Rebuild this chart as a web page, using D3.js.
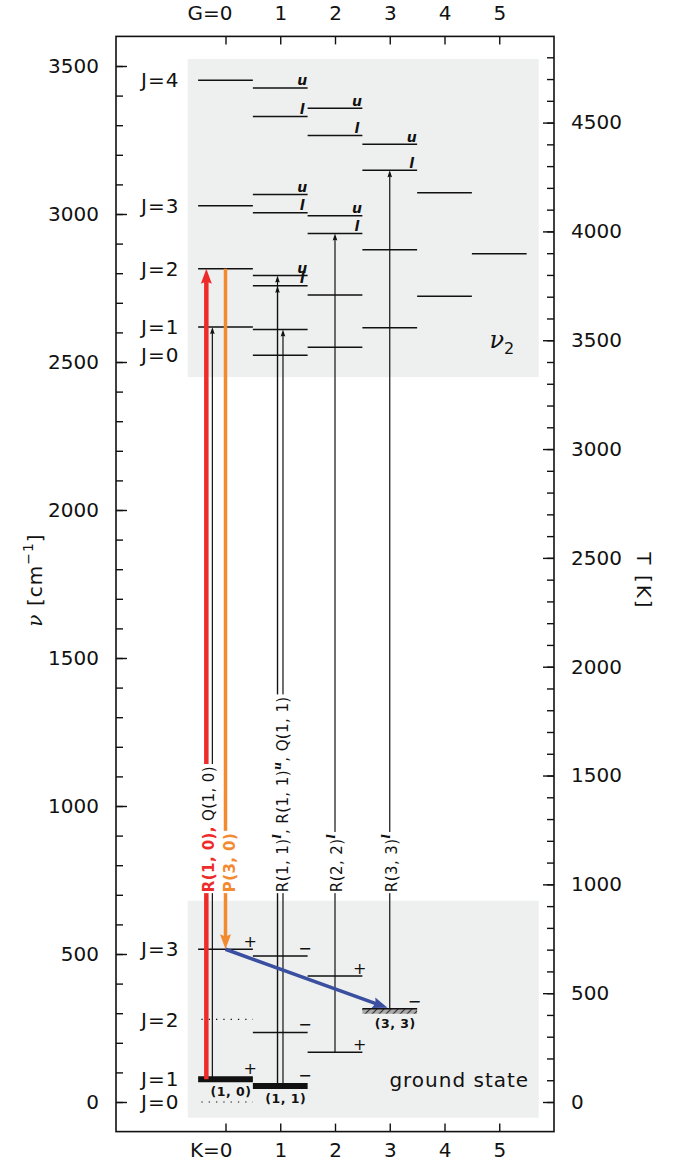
<!DOCTYPE html>
<html>
<head>
<meta charset="utf-8">
<script src="https://cdn.jsdelivr.net/npm/d3@7"></script>
<style>
  body { margin: 0; background: #fff; }
  text { font-family: "DejaVu Sans", sans-serif; }
</style>
</head>
<body>
<div id="chart"></div>
<script>
// ---- data ----
const kTicks = [0, 1, 2, 3, 4, 5];
const nuTicks = [0, 500, 1000, 1500, 2000, 2500, 3000, 3500];
const tempTicks = [0, 500, 1000, 1500, 2000, 2500, 3000, 3500, 4000, 4500];

// nu2 = 1 levels
const upperK   = [0, 0, 0, 0,   1, 1, 1, 1, 1, 1, 1, 1,   2, 2, 2, 2, 2, 2,   3, 3, 3, 3,   4, 4,   5];
const upperNu  = [3452, 3028, 2815, 2618,   3426, 3329, 3066, 3004, 2792, 2758, 2610, 2523,
                  3357, 3265, 2994, 2934, 2726, 2550,   3236, 3148, 2879, 2616,   3072, 2722,   2866];
const upperTag = ["", "", "", "",   "u", "l", "u", "l", "u", "l", "", "",   "u", "l", "u", "l", "", "",
                  "u", "l", "", "",   "", "",   ""];

// ground state levels
const groundK      = [0, 0, 0, 0,   1, 1, 1,   2, 2,   3];
const groundNu     = [516, 279, 77, 0,   493, 235, 54,   426, 168,   315];
const groundStyle  = ["line", "dotted", "thick", "dotted",   "line", "line", "thick",   "line", "line",   "hatched"];
const groundParity = ["+", "", "+", "",   "\u2212", "\u2212", "\u2212",   "+", "+",   "\u2212"];
const groundName   = ["", "", "(1, 0)", "",   "", "", "(1, 1)",   "", "",   "(3, 3)"];

const jUpperNames  = ["J=4", "J=3", "J=2", "J=1", "J=0"];
const jUpperNu     = [3452, 3028, 2815, 2618, 2523];
const jGroundNames = ["J=3", "J=2", "J=1", "J=0"];
const jGroundNu    = [516, 279, 77, 0];

// transitions (vertical)
const transX     = [-0.35, -0.24, 0, 0.95, 0.95, 1.05, 2, 3];
const transFrom  = [77, 77, 2815, 54, 54, 54, 168, 315];
const transTo    = [2815, 2618, 516, 2792, 2758, 2610, 2934, 3148];
const transKind  = ["red", "thin", "orange", "thin", "thin", "thin", "thin", "thin"];

// relaxation arrow (K, nu)
const blueFrom = [0, 516];
const blueTo   = [2.96, 318];

// transition labels
const labelX = [-0.31, 0.07, 1.04, 2.02, 3.03];
const labelParts = [
  [["R(1, 0),", "red"], [" Q(1, 0)", "plain"]],
  [["P(3, 0)", "orange"]],
  [["R(1, 1)", "plain"], ["l", "sup"], [", R(1, 1)", "plain"], ["u", "sup"], [", Q(1, 1)", "plain"]],
  [["R(2, 2)", "plain"], ["l", "sup"]],
  [["R(3, 3)", "plain"], ["l", "sup"]]
];
const labelNu = 709;

// shaded regions
const bandK = [-0.69, 5.72];
const bandNuLow  = [2449, -53];
const bandNuHigh = [3524, 680];

const colors = { red: "#ee2b2b", orange: "#f28a30", blue: "#3a4f9f", thin: "#111", plain: "#111" };

// ---- chart ----
const width = 675, height = 1163;
const frameLeft = 116, frameRight = 554, frameTop = 36.4, frameBottom = 1131.6;
const kelvinPerWavenumber = 1.36;

const svg = d3.select("#chart").append("svg")
  .attr("width", width)
  .attr("height", height);

const x = d3.scaleLinear().domain([-2, 6]).range([frameLeft, frameRight]);
const y = d3.scaleLinear().domain([-100, 3600]).range([frameBottom, frameTop]);
const yT = d3.scaleLinear().domain([-100 * kelvinPerWavenumber, 3600 * kelvinPerWavenumber]).range([frameBottom, frameTop]);

// hatch pattern for (3,3)
const defs = svg.append("defs");
const pat = defs.append("pattern").attr("id", "hatch")
  .attr("patternUnits", "userSpaceOnUse").attr("width", 7).attr("height", 7);
pat.append("rect").attr("width", 7).attr("height", 7).attr("fill", "#a9a9a9");
pat.append("path").attr("d", "M-1,8L8,-1").attr("stroke", "#333").attr("stroke-width", 1.2);

// shaded boxes
svg.append("g").selectAll("rect").data(bandNuLow).join("rect")
  .attr("x", x(bandK[0]))
  .attr("width", x(bandK[1]) - x(bandK[0]))
  .attr("y", (d, i) => y(bandNuHigh[i]))
  .attr("height", (d, i) => y(d) - y(bandNuHigh[i]))
  .attr("fill", "#eef0ef");

// axes
function styleAxis(g) {
  g.select(".domain").remove();
  g.selectAll("text").attr("font-family", "DejaVu Sans").attr("font-size", 20).attr("fill", "#111");
  g.selectAll("line").attr("stroke", "#111").attr("stroke-width", 1.4);
}
const plain = d3.format("d");

svg.append("g").attr("transform", `translate(${frameLeft},0)`)
  .call(d3.axisLeft(y).tickValues(d3.range(0, 3600, 100)).tickSize(-7).tickFormat(""))
  .call(styleAxis);
svg.append("g").attr("transform", `translate(${frameLeft},0)`)
  .call(d3.axisLeft(y).tickValues(nuTicks).tickSize(-11).tickPadding(17).tickFormat(plain))
  .call(styleAxis);

svg.append("g").attr("transform", `translate(${frameRight},0)`)
  .call(d3.axisRight(yT).tickValues(d3.range(0, 4900, 100)).tickSize(-7).tickFormat(""))
  .call(styleAxis);
svg.append("g").attr("transform", `translate(${frameRight},0)`)
  .call(d3.axisRight(yT).tickValues(tempTicks).tickSize(-11).tickPadding(17).tickFormat(plain))
  .call(styleAxis);

const topAxis = svg.append("g").attr("transform", `translate(0,${frameTop})`)
  .call(d3.axisTop(x).tickValues(kTicks).tickSize(-8).tickPadding(16).tickFormat(d => d === 0 ? "G=0" : d))
  .call(styleAxis);
topAxis.selectAll("text").filter(d => d === 0).attr("text-anchor", "end").attr("x", 6.5);

const bottomAxis = svg.append("g").attr("transform", `translate(0,${frameBottom})`)
  .call(d3.axisBottom(x).tickValues(kTicks).tickSize(-8).tickPadding(11).tickFormat(d => d === 0 ? "K=0" : d))
  .call(styleAxis);
bottomAxis.selectAll("text").filter(d => d === 0).attr("text-anchor", "end").attr("x", 6.5);

// frame
svg.append("rect")
  .attr("x", frameLeft).attr("y", frameTop)
  .attr("width", frameRight - frameLeft).attr("height", frameBottom - frameTop)
  .attr("fill", "none").attr("stroke", "#111").attr("stroke-width", 1.6);

// axis titles
const yTitle = svg.append("text")
  .attr("transform", "translate(42,580) rotate(-90)")
  .attr("text-anchor", "middle")
  .attr("font-size", 20)
  .attr("letter-spacing", 1)
  .attr("fill", "#111");
yTitle.append("tspan").attr("font-family", "DejaVu Serif").attr("font-style", "italic").text("\u03bd");
yTitle.append("tspan").text(" [cm");
yTitle.append("tspan").attr("font-size", 14).attr("dy", -9).text("\u22121");
yTitle.append("tspan").attr("dy", 9).text("]");

svg.append("text")
  .attr("transform", "translate(637,581) rotate(90)")
  .attr("text-anchor", "middle")
  .attr("font-size", 20)
  .attr("letter-spacing", 2)
  .attr("fill", "#111")
  .text("T [K]");

// ---- levels ----
const levels = svg.append("g");

levels.selectAll("line.up").data(upperNu).join("line")
  .attr("class", "up")
  .attr("x1", (d, i) => x(upperK[i] - 0.5))
  .attr("x2", (d, i) => x(upperK[i] + 0.5))
  .attr("y1", d => y(d)).attr("y2", d => y(d))
  .attr("stroke", "#111").attr("stroke-width", 1.5);

levels.selectAll("text.tag").data(upperNu).join("text")
  .attr("class", "tag")
  .attr("x", (d, i) => x(upperK[i] + 0.4))
  .attr("y", d => y(d) - 2.5)
  .attr("text-anchor", "middle")
  .attr("font-family", "DejaVu Serif")
  .attr("font-style", "italic")
  .attr("font-weight", "bold")
  .attr("font-size", 14)
  .attr("fill", "#111")
  .text((d, i) => upperTag[i]);

// hatched band under (3,3)
groundNu.forEach((d, i) => {
  if (groundStyle[i] !== "hatched") return;
  levels.append("rect")
    .attr("x", x(groundK[i] - 0.5)).attr("width", x(groundK[i] + 0.5) - x(groundK[i] - 0.5))
    .attr("y", y(d)).attr("height", 5)
    .attr("fill", "url(#hatch)");
});

levels.selectAll("line.gr").data(groundNu).join("line")
  .attr("class", "gr")
  .attr("x1", (d, i) => x(groundK[i] - (groundStyle[i] === "dotted" ? 0.44 : 0.5)))
  .attr("x2", (d, i) => x(groundK[i] + 0.5))
  .attr("y1", d => y(d)).attr("y2", d => y(d))
  .attr("stroke", "#111")
  .attr("stroke-width", (d, i) => groundStyle[i] === "thick" ? 6 : groundStyle[i] === "dotted" ? 1.2 : 1.5)
  .attr("stroke-dasharray", (d, i) => groundStyle[i] === "dotted" ? "1.3,6" : null);

levels.selectAll("text.par").data(groundNu).join("text")
  .attr("class", "par")
  .attr("x", (d, i) => x(groundK[i] + 0.45))
  .attr("y", (d, i) => y(d) - (groundStyle[i] === "thick" ? 5 : 2))
  .attr("text-anchor", "middle")
  .attr("font-size", 16)
  .attr("fill", "#111")
  .text((d, i) => groundParity[i]);

levels.selectAll("text.name").data(groundNu).join("text")
  .attr("class", "name")
  .attr("x", (d, i) => x(groundK[i] + 0.1))
  .attr("y", (d, i) => y(d) + (groundStyle[i] === "hatched" ? 19 : 17))
  .attr("text-anchor", "middle")
  .attr("font-size", 12.5)
  .attr("font-weight", "bold")
  .attr("letter-spacing", 0.5)
  .attr("fill", "#111")
  .text((d, i) => groundName[i]);

// J labels
const jText = (names, nus) => svg.append("g").selectAll("text").data(nus).join("text")
  .attr("x", x(-0.84))
  .attr("y", d => y(d))
  .attr("dy", "0.36em")
  .attr("text-anchor", "end")
  .attr("font-size", 20)
  .attr("letter-spacing", 1)
  .attr("fill", "#111")
  .text((d, i) => names[i]);
jText(jUpperNames, jUpperNu);
jText(jGroundNames, jGroundNu);

// ---- transitions ----
function arrowHead(g, x1, y1, x2, y2, len, wid, color, notch) {
  const a = Math.atan2(y2 - y1, x2 - x1);
  const ux = Math.cos(a), uy = Math.sin(a);
  const bx = x2 - ux * len, by = y2 - uy * len;
  const px = -uy * wid / 2, py = ux * wid / 2;
  const nx = x2 - ux * len * (1 - notch), ny = y2 - uy * len * (1 - notch);
  g.append("path")
    .attr("d", `M${x2},${y2}L${bx + px},${by + py}L${nx},${ny}L${bx - px},${by - py}Z`)
    .attr("fill", color);
}

const trans = svg.append("g");
transX.forEach((k, i) => {
  const kind = transKind[i];
  const heavy = kind !== "thin";
  const px = x(k), y1 = y(transFrom[i]), y2 = y(transTo[i]);
  const len = heavy ? 15 : 7, wid = heavy ? 11 : 4.6;
  const dir = Math.sign(y2 - y1);
  trans.append("line")
    .attr("x1", px).attr("x2", px)
    .attr("y1", y1).attr("y2", y2 - dir * len * 0.7)
    .attr("stroke", colors[kind])
    .attr("stroke-width", kind === "red" ? 4.5 : kind === "orange" ? 3.5 : 1.2);
  arrowHead(trans, px, y1, px, y2, len, wid, colors[kind], heavy ? 0.15 : 0.1);
});

// relaxation arrow
{
  const x1 = x(blueFrom[0]), y1 = y(blueFrom[1]);
  const x2 = x(blueTo[0]), y2 = y(blueTo[1]);
  const a = Math.atan2(y2 - y1, x2 - x1);
  trans.append("line")
    .attr("x1", x1).attr("y1", y1)
    .attr("x2", x2 - Math.cos(a) * 11).attr("y2", y2 - Math.sin(a) * 11)
    .attr("stroke", colors.blue).attr("stroke-width", 3.6);
  arrowHead(trans, x1, y1, x2, y2, 15, 11, colors.blue, 0.15);
}

// transition labels (rotated, knock out the lines behind them)
labelX.forEach((k, i) => {
  const g = svg.append("g")
    .attr("transform", `translate(${x(k)},${y(labelNu)}) rotate(-90)`);
  const bg = g.append("rect").attr("fill", "#fff");
  const t = g.append("text")
    .attr("x", 0).attr("y", 0)
    .attr("dy", "0.36em")
    .attr("font-size", 15)
    .attr("letter-spacing", 0.4);
  let raised = false;
  labelParts[i].forEach(([str, kind]) => {
    const s = t.append("tspan").text(str);
    if (kind === "sup") {
      s.attr("font-family", "DejaVu Serif").attr("font-style", "italic").attr("font-weight", "bold")
        .attr("font-size", 11).attr("dy", -7).attr("fill", "#111");
      raised = true;
    } else {
      if (raised) { s.attr("dy", 7); raised = false; }
      s.attr("fill", colors[kind]);
      if (kind === "red" || kind === "orange") s.attr("font-weight", "bold");
    }
  });
  const bb = t.node().getBBox();
  bg.attr("x", bb.x - 1).attr("y", bb.y - 1).attr("width", bb.width + 3).attr("height", bb.height + 2);
});

// region names
const nu2 = svg.append("text")
  .attr("x", x(4.82)).attr("y", y(2546))
  .attr("font-size", 24)
  .attr("fill", "#111");
nu2.append("tspan").attr("font-family", "DejaVu Serif").attr("font-style", "italic").text("\u03bd");
nu2.append("tspan").attr("font-size", 16).attr("dy", 6).text("2");

svg.append("text")
  .attr("x", x(4.27)).attr("y", y(50))
  .attr("text-anchor", "middle")
  .attr("font-size", 20)
  .attr("letter-spacing", 1)
  .attr("fill", "#111")
  .text("ground state");
</script>
</body>
</html>
